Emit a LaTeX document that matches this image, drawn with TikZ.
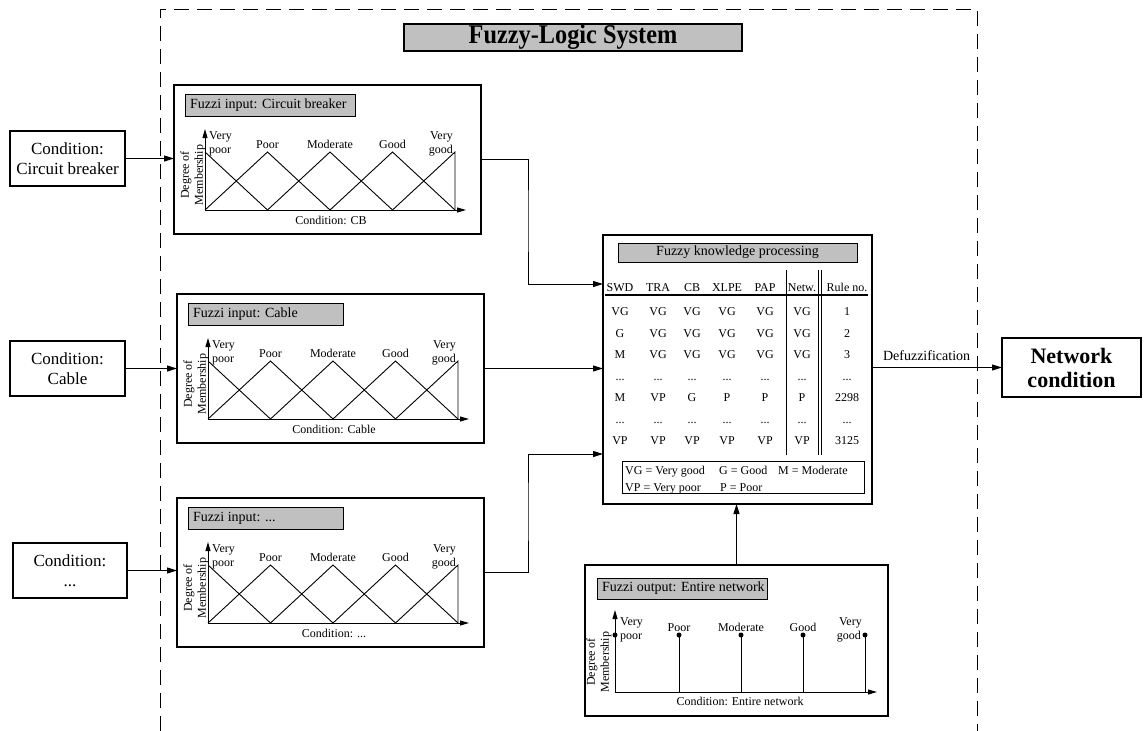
\documentclass[tikz,border=0pt]{standalone}
\usepackage{fontspec}
\usepackage{graphicx}
\setmainfont{Liberation Serif}
\usetikzlibrary{arrows.meta,calc}
\definecolor{boxgray}{HTML}{C0C0C0}
\newcommand\fsz[2]{\fontsize{#1}{#2}\selectfont}
\newcommand\tdots{...}
\tikzset{
 box/.style={draw, line width=1.1pt, inner sep=0pt, outer sep=0pt, anchor=north west},
 lblbox/.style={draw, fill=boxgray, line width=0.9pt, inner sep=0pt, outer sep=0pt, anchor=north west},
 arr/.style={line width=1pt, -{Triangle[length=10pt,width=6pt]}},
 ln/.style={line width=0.9pt},
 axisline/.style={line width=1pt, -{Triangle[length=9pt,width=5pt]}},
 sm/.style={font=\fsz{12}{14}, inner sep=0pt},
 dashframe/.style={line width=1pt, dash pattern=on 15pt off 8pt},
 dot/.style={circle, fill, inner sep=0pt, minimum size=5pt},
}
\newcommand\fuzzyin[6]{%
\begin{scope}[shift={(#2,#3)}]
 \node[box, minimum width=307pt, minimum height=149pt] (#1) at (0,0) {};
 \node[lblbox, minimum width=#4pt, minimum height=22pt] (#1-lb) at (11,9) {};
 \node[font=\fsz{14}{16}, anchor=west, inner sep=0pt] (#1-lt) at (16,20) {#5};
 \draw[axisline] (31,125) -- (31,44);
 \draw[axisline] (31,125) -- (292,125);
 \draw[ln] (31,67) -- (93.5,125);
 \draw[ln] (31,125) -- (93.5,67) -- (156,125);
 \draw[ln] (93.5,125) -- (156,67) -- (218.5,125);
 \draw[ln] (156,125) -- (218.5,67) -- (281,125);
 \draw[ln] (218.5,125) -- (281,67) -- (281,125);
 \node[sm, rotate=90, align=center] (#1-deg) at (19,90) {Degree of\\Membership};
 \node[sm, anchor=base west] (#1-v1) at (35,54) {Very};
 \node[sm, anchor=base west] (#1-v2) at (35,68) {poor};
 \node[sm, anchor=base] (#1-p) at (93.5,63) {Poor};
 \node[sm, anchor=base] (#1-m) at (156,63) {Moderate};
 \node[sm, anchor=base] (#1-g) at (218.5,63) {Good};
 \node[sm, anchor=base east] (#1-w1) at (279,54) {Very};
 \node[sm, anchor=base east] (#1-w2) at (279,68) {good};
 \node[sm, anchor=base] (#1-c) at (157,139) {#6};
\end{scope}}
\begin{document}
\begin{tikzpicture}[x=1pt,y=-1pt]
\useasboundingbox (0,0) rectangle (1144,731);
% dashed system frame
\draw[dashframe] (160,731) -- (160,9) -- (977,9) -- (977,731);
% title
\node[lblbox, line width=2pt, minimum width=338pt, minimum height=27pt, font=\bfseries\fsz{27}{30}] (title) at (404,24) {\scalebox{0.9}[1]{Fuzzy-Logic System}};
% condition boxes
\node[box, minimum width=115pt, minimum height=55pt, align=center, font=\fsz{17}{20}] (c1) at (10,131) {Condition:\\Circuit breaker};
\node[box, minimum width=115pt, minimum height=55pt, align=center, font=\fsz{17}{20}] (c2) at (10,341) {Condition:\\Cable};
\node[box, minimum width=114pt, minimum height=55pt, align=center, font=\fsz{17}{20}] (c3) at (13,543) {Condition:\\\tdots};
% fuzzy inputs
\fuzzyin{in1}{174}{85}{170}{Fuzzi input: Circuit breaker}{Condition: CB}
\fuzzyin{in2}{177}{294}{155}{Fuzzi input: Cable}{Condition: Cable}
\fuzzyin{in3}{177}{498}{155}{Fuzzi input: \tdots}{Condition: \tdots}
% processing box
\node[box, minimum width=269pt, minimum height=269pt] (proc) at (603,235) {};
\node[lblbox, minimum width=239pt, minimum height=19pt, font=\fsz{14}{16}] (ph) at (618,243) {Fuzzy knowledge processing};
\foreach \x/\t [count=\i] in {620/SWD,658/TRA,692/CB,727/XLPE,765/PAP,802/Netw.,847/Rule no.}
  \node[sm, anchor=base] (h\i) at (\x,291) {\t};
\draw[line width=1.2pt] (605,295) -- (868,295);
\draw[line width=1pt] (786,270) -- (786,455);
\draw[line width=1pt] (818,270) -- (818,455);
\draw[line width=1pt] (821.5,270) -- (821.5,455);
\foreach \row [count=\r] in {{VG,VG,VG,VG,VG,VG,1},{G,VG,VG,VG,VG,VG,2},{M,VG,VG,VG,VG,VG,3},{\tdots,\tdots,\tdots,\tdots,\tdots,\tdots,\tdots},{M,VP,G,P,P,P,2298},{\tdots,\tdots,\tdots,\tdots,\tdots,\tdots,\tdots},{VP,VP,VP,VP,VP,VP,3125}}{
  \foreach \v [count=\c] in \row {
    \pgfmathsetmacro\cx{{620,658,692,727,765,802,847}[\c-1]}
    \pgfmathsetmacro\cy{315.5+21.5*(\r-1)}
    \node[sm, anchor=base] (t\r-\c) at (\cx,\cy) {\v};
  }
}
\node[box, line width=1pt, minimum width=242pt, minimum height=32pt] (leg) at (622,461) {};
\node[sm, anchor=base west] (l1) at (625,474) {VG = Very good};
\node[sm, anchor=base west] (l2) at (719,474) {G = Good};
\node[sm, anchor=base west] (l3) at (778,474) {M = Moderate};
\node[sm, anchor=base west] (l4) at (625,491) {VP = Very poor};
\node[sm, anchor=base west] (l5) at (720,491) {P = Poor};
% output box
\node[box, minimum width=303pt, minimum height=151pt] (out) at (585,565) {};
\node[lblbox, minimum width=170pt, minimum height=21pt] (out-lb) at (597,578) {};
\node[font=\fsz{14}{16}, anchor=west, inner sep=0pt] (out-lt) at (602,588.5) {Fuzzi output: Entire network};
\draw[axisline] (615,692) -- (615,610);
\draw[axisline] (615,692) -- (877,692);
\foreach \x [count=\i] in {679,741,803,865}
  \draw[ln] (\x,692) -- (\x,635);
\foreach \x [count=\i] in {615,679,741,803,865}
  \node[dot] (od\i) at (\x,635) {};
\node[sm, rotate=90, align=center] (out-deg) at (599,662) {Degree of\\Membership};
\node[sm, anchor=base west] (ov1) at (620,625) {Very};
\node[sm, anchor=base west] (ov2) at (620,639) {poor};
\node[sm, anchor=base] (op) at (679,631) {Poor};
\node[sm, anchor=base] (om) at (741,631) {Moderate};
\node[sm, anchor=base] (og) at (803,631) {Good};
\node[sm, anchor=base east] (ow1) at (862,625) {Very};
\node[sm, anchor=base east] (ow2) at (861,639) {good};
\node[sm, anchor=base] (oc) at (740,705) {Condition: Entire network};
% network condition
\node[box, minimum width=139pt, minimum height=59pt, align=center, font=\bfseries\fsz{22}{24}] (net) at (1002,338) {Network\\condition};
% connectors
\draw[arr] (c1.east) -- (c1.east -| in1.west);
\draw[arr] (c2.east) -- (c2.east -| in2.west);
\draw[arr] (c3.east) -- (c3.east -| in3.west);
\coordinate (k1) at (528,220);
\coordinate (j1) at (603,284);
\coordinate (k3) at (528,510);
\coordinate (j3) at (603,454);
\draw[arr] (in1.east) -| (k1) |- (j1);
\draw[arr] (in2.east) -- (in2.east -| proc.west);
\draw[arr] (in3.east) -| (k3) |- (j3);
\draw[arr] (out.north) -- (out.north |- proc.south);
\draw[arr] (proc.east |- net.west) -- node[pos=0.42, above=6pt, font=\fsz{14}{16}, inner sep=0pt] (dl) {Defuzzification} (net.west);
\end{tikzpicture}
\end{document}
